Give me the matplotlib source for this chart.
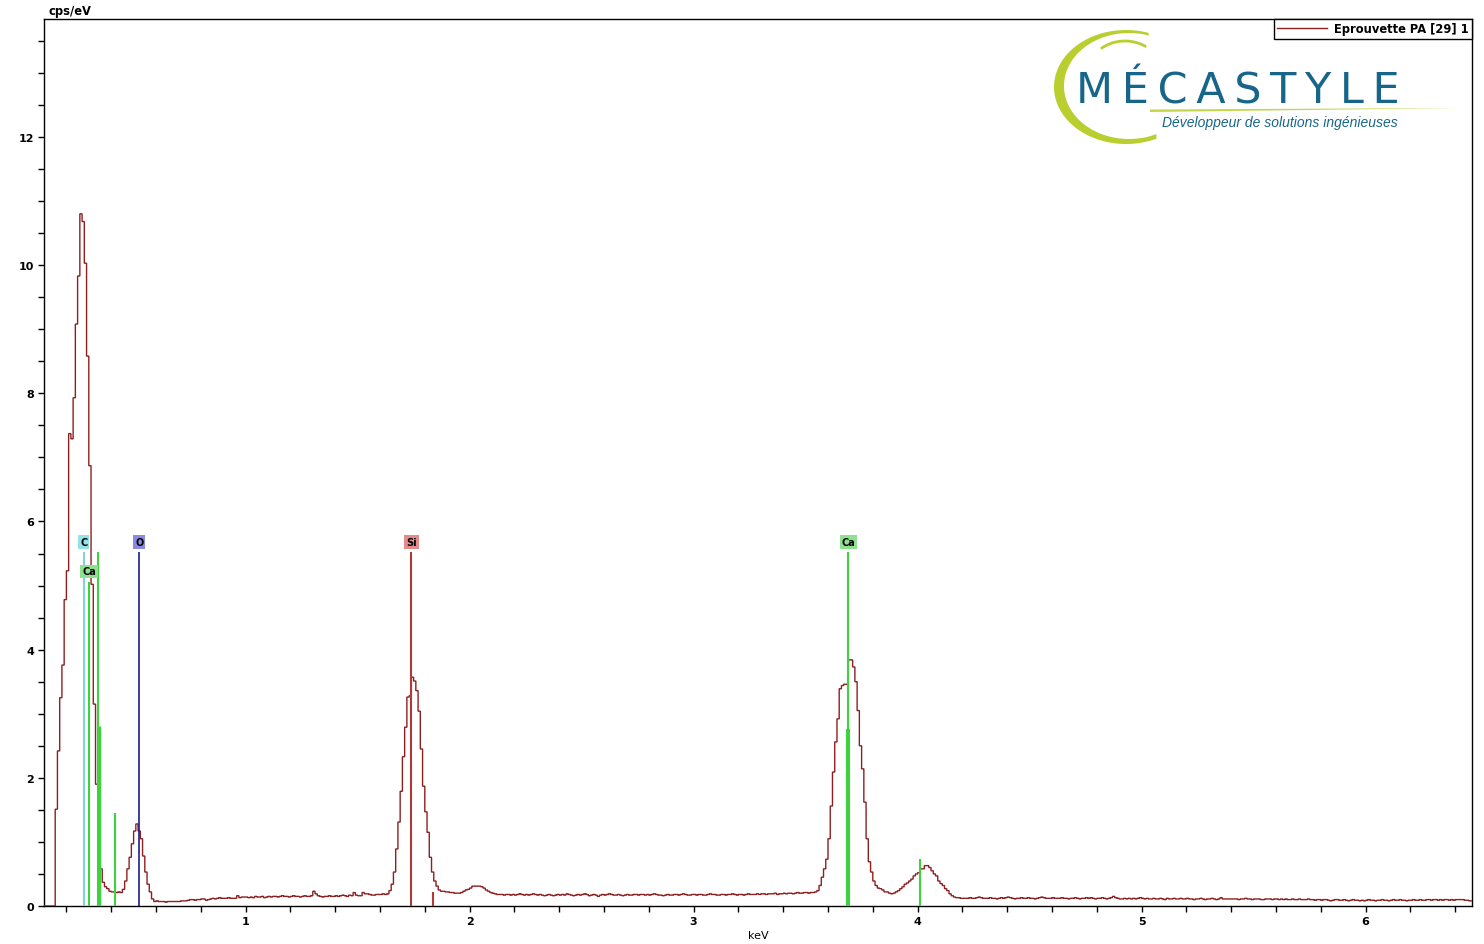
import numpy as np
import matplotlib
matplotlib.use('Agg')
import matplotlib.pyplot as plt
from matplotlib.ticker import MultipleLocator
from matplotlib.patches import Polygon

plt.rcParams['font.family'] = ['DejaVu Sans']
plt.rcParams['font.weight'] = 'bold'

# spectrum: 10 eV channels starting at 0.10 keV
channel_start = 0.10
channel_width = 0.01

below_threshold = [0.0, 0.0, 0.0, 0.0, 0.0]  # 0.10 - 0.15
low_energy = [  # 0.15 - 0.61 (C / Ca L / O)
    1.51, 2.42, 3.25, 3.76, 4.78, 5.23, 7.37, 7.29, 7.93, 9.08,
    9.83, 10.80, 10.68, 10.03, 8.58, 6.87, 5.02, 3.15, 1.90, 1.05,
    0.58, 0.37, 0.30, 0.27, 0.23, 0.22, 0.22, 0.21, 0.22, 0.21,
    0.26, 0.39, 0.58, 0.76, 0.97, 1.17, 1.28, 1.17, 1.05, 0.78,
    0.53, 0.34, 0.22, 0.11, 0.07, 0.08,
]
background_1 = [  # 0.61 - 1.64
    0.07, 0.07, 0.07, 0.06, 0.07, 0.07, 0.07, 0.07, 0.07,
    0.07, 0.08, 0.08, 0.08, 0.09, 0.10, 0.10, 0.09, 0.10, 0.10,
    0.11, 0.11, 0.09, 0.10, 0.11, 0.12, 0.11, 0.12, 0.13, 0.12,
    0.12, 0.12, 0.13, 0.12, 0.12, 0.12, 0.16, 0.13, 0.14, 0.14,
    0.14, 0.13, 0.14, 0.13, 0.15, 0.14, 0.14, 0.15, 0.13, 0.14,
    0.15, 0.14, 0.15, 0.15, 0.14, 0.15, 0.16, 0.15, 0.15, 0.14,
    0.15, 0.16, 0.15, 0.15, 0.14, 0.15, 0.16, 0.15, 0.15, 0.16,
    0.23, 0.19, 0.16, 0.15, 0.14, 0.15, 0.15, 0.16, 0.15, 0.15,
    0.16, 0.15, 0.16, 0.17, 0.16, 0.15, 0.17, 0.16, 0.21, 0.17,
    0.16, 0.16, 0.21, 0.19, 0.19, 0.18, 0.17, 0.17, 0.18, 0.18,
    0.18, 0.19, 0.18, 0.19,
]
si_peak = [  # 1.64 - 1.87
    0.24, 0.34, 0.53, 0.89, 1.31, 1.79, 2.33, 2.79, 3.26, 3.28,
    3.57, 3.51, 3.36, 3.04, 2.45, 1.87, 1.47, 1.15, 0.76, 0.53,
    0.39, 0.31, 0.25,
]
background_2 = [  # 1.87 - 3.55
    0.23, 0.23, 0.22,
    0.22, 0.21, 0.21, 0.20, 0.20, 0.20, 0.21, 0.23, 0.25, 0.26,
    0.28, 0.31, 0.31, 0.31, 0.31, 0.30, 0.28, 0.25, 0.23, 0.21,
    0.20, 0.19, 0.18, 0.18, 0.18, 0.17, 0.18, 0.18, 0.17, 0.18,
    0.17, 0.18, 0.19, 0.18, 0.17, 0.18, 0.17, 0.18, 0.19, 0.18,
    0.17, 0.18, 0.17, 0.16, 0.17, 0.18, 0.17, 0.16, 0.17, 0.18,
    0.17, 0.18, 0.17, 0.19, 0.18, 0.17, 0.16, 0.17, 0.18, 0.17,
    0.18, 0.19, 0.18, 0.16, 0.17, 0.18, 0.17, 0.15, 0.17, 0.18,
    0.17, 0.18, 0.19, 0.18, 0.17, 0.17, 0.18, 0.17, 0.16, 0.17,
    0.18, 0.17, 0.17, 0.18, 0.18, 0.17, 0.18, 0.18, 0.17, 0.18,
    0.17, 0.18, 0.19, 0.18, 0.17, 0.17, 0.16, 0.17, 0.18, 0.17,
    0.17, 0.18, 0.18, 0.17, 0.18, 0.19, 0.18, 0.17, 0.17, 0.18,
    0.18, 0.17, 0.18, 0.18, 0.17, 0.17, 0.18, 0.19, 0.18, 0.18,
    0.17, 0.17, 0.18, 0.18, 0.17, 0.18, 0.18, 0.19, 0.18, 0.17,
    0.18, 0.18, 0.17, 0.18, 0.19, 0.18, 0.18, 0.18, 0.19, 0.18,
    0.19, 0.19, 0.18, 0.19, 0.19, 0.19, 0.20, 0.18, 0.19, 0.19,
    0.20, 0.19, 0.20, 0.20, 0.19, 0.20, 0.21, 0.20, 0.20, 0.21,
    0.21, 0.20, 0.21, 0.21, 0.22,
]
ca_peak = [  # 3.55 - 4.18
    0.24, 0.32, 0.45, 0.58, 0.73, 1.05, 1.56, 2.09, 2.56, 2.92,
    3.39, 3.44, 3.46, 3.46, 3.84, 3.84, 3.73, 3.50, 3.05, 2.50,
    2.14, 1.62, 1.05, 0.69, 0.53, 0.39, 0.32, 0.28, 0.27, 0.25,
    0.22, 0.22, 0.20, 0.19, 0.20, 0.22, 0.24, 0.27, 0.30, 0.34,
    0.36, 0.39, 0.42, 0.47, 0.50, 0.52, 0.58, 0.58, 0.63, 0.63,
    0.60, 0.55, 0.50, 0.47, 0.39, 0.35, 0.32, 0.27, 0.24, 0.19,
    0.16, 0.14, 0.13,
]
background_3 = [  # 4.18 - 6.48
    0.13, 0.12, 0.12, 0.12, 0.12, 0.13, 0.12, 0.12, 0.13, 0.14,
    0.13, 0.12, 0.12, 0.12, 0.13, 0.12, 0.12, 0.11, 0.12, 0.13,
    0.12, 0.13, 0.14, 0.13, 0.12, 0.11, 0.12, 0.12, 0.13, 0.12,
    0.12, 0.13, 0.12, 0.12, 0.11, 0.12, 0.13, 0.14, 0.13, 0.12,
    0.12, 0.12, 0.13, 0.12, 0.12, 0.12, 0.13, 0.12, 0.12, 0.11,
    0.12, 0.12, 0.13, 0.12, 0.11, 0.12, 0.12, 0.13, 0.12, 0.13,
    0.12, 0.11, 0.12, 0.12, 0.13, 0.12, 0.11, 0.12, 0.13, 0.15,
    0.13, 0.12, 0.11, 0.11, 0.12, 0.11, 0.12, 0.11, 0.12, 0.11,
    0.12, 0.13, 0.12, 0.11, 0.12, 0.11, 0.11, 0.12, 0.11, 0.11,
    0.12, 0.11, 0.10, 0.12, 0.11, 0.11, 0.12, 0.11, 0.11, 0.12,
    0.11, 0.11, 0.12, 0.11, 0.11, 0.10, 0.11, 0.11, 0.12, 0.11,
    0.10, 0.11, 0.11, 0.12, 0.11, 0.10, 0.11, 0.13, 0.11, 0.11,
    0.11, 0.11, 0.11, 0.11, 0.11, 0.10, 0.11, 0.11, 0.12, 0.11,
    0.11, 0.10, 0.11, 0.11, 0.11, 0.10, 0.10, 0.11, 0.11, 0.11,
    0.10, 0.11, 0.11, 0.10, 0.11, 0.10, 0.11, 0.10, 0.10, 0.11,
    0.10, 0.10, 0.11, 0.10, 0.10, 0.10, 0.11, 0.10, 0.10, 0.09,
    0.10, 0.10, 0.09, 0.10, 0.10, 0.09, 0.08, 0.09, 0.10, 0.10,
    0.09, 0.09, 0.10, 0.09, 0.08, 0.09, 0.10, 0.09, 0.09, 0.08,
    0.09, 0.08, 0.09, 0.10, 0.09, 0.09, 0.08, 0.09, 0.09, 0.10,
    0.09, 0.09, 0.08, 0.09, 0.10, 0.09, 0.09, 0.10, 0.09, 0.09,
    0.08, 0.09, 0.09, 0.10, 0.09, 0.09, 0.10, 0.09, 0.09, 0.10,
    0.10, 0.09, 0.10, 0.10, 0.09, 0.10, 0.09, 0.10, 0.10, 0.09,
    0.10, 0.09, 0.10, 0.10, 0.10, 0.10, 0.09, 0.09, 0.08, 0.08,
]

counts = np.array(below_threshold + low_energy + background_1 + si_peak
                  + background_2 + ca_peak + background_3)
edges = channel_start + channel_width * np.arange(len(counts) + 1)

# element lines (keV, height in cps/eV)
line_energy = [0.277, 0.302, 0.341, 0.345, 0.417, 0.525, 1.740, 1.836, 3.691, 3.688, 4.012]
line_height = [5.52, 5.06, 5.52, 2.81, 1.45, 5.52, 5.52, 0.22, 5.52, 2.76, 0.73]
line_element = ['C', 'Ca', 'Ca', 'Ca', 'Ca', 'O', 'Si', 'Si', 'Ca', 'Ca', 'Ca']
line_width = [1.5, 1.5, 1.5, 2.5, 1.5, 1.2, 1.5, 1.5, 1.5, 3.0, 1.5]

label_text = ['C', 'Ca', 'O', 'Si', 'Ca']
label_energy = [0.277, 0.302, 0.525, 1.740, 3.691]
label_height = [5.52, 5.06, 5.52, 5.52, 5.52]

element_line_color = {'C': '#7fd3dc', 'Ca': '#3fd23f', 'O': '#1c1c8c', 'Si': '#b03a3a'}
element_box_color = {'C': '#93e3e8', 'Ca': '#8fe08f', 'O': '#8a8ae0', 'Si': '#e48a8a'}

fig = plt.figure(figsize=(14.84, 9.45), dpi=100)
ax = fig.add_axes([44 / 1484, 38 / 945, 1428 / 1484, 887 / 945])

ax.stairs(counts, edges, color='#8c1f1f', linewidth=1.0, label='Eprouvette PA [29] 1', zorder=3)
ax.vlines(line_energy, 0, line_height,
          colors=[element_line_color[e] for e in line_element],
          linewidths=line_width, zorder=4)
for txt, e, h in zip(label_text, label_energy, label_height):
    ax.text(e, h + 0.16, txt, ha='center', va='center', fontsize=7, color='black',
            bbox=dict(boxstyle='square,pad=0.2', fc=element_box_color[txt], ec='none'), zorder=5)

ax.set_xlim(0.10, 6.475)
ax.set_ylim(0, 13.84)
ax.xaxis.set_major_locator(MultipleLocator(1))
ax.xaxis.set_minor_locator(MultipleLocator(0.2))
ax.yaxis.set_major_locator(MultipleLocator(2))
ax.yaxis.set_minor_locator(MultipleLocator(0.5))
ax.tick_params(which='both', direction='out', length=4, width=1, labelsize=8, pad=3)
ax.set_xticks([1, 2, 3, 4, 5, 6])
ax.set_xticklabels(['1', '2', '3', '4', '5', '6'])
for sp in ax.spines.values():
    sp.set_linewidth(1)
ax.set_xlabel('keV', fontsize=8, labelpad=3)
ax.text(0.003, 1.002, 'cps/eV', transform=ax.transAxes, ha='left', va='bottom', fontsize=8.3)

leg = ax.legend(loc='upper right', borderaxespad=0, fancybox=False, fontsize=8.3,
                handlelength=4.3, borderpad=0.3, handletextpad=0.6, framealpha=1)
leg.get_frame().set_edgecolor('black')
leg.get_frame().set_linewidth(1)
leg.get_lines()[0].set_linewidth(1)

# company logo (drawn in pixel coordinates of the logo area)
lax = fig.add_axes([1040 / 1484, (945 - 150) / 945, 440 / 1484, 130 / 945])
lax.set_xlim(1040, 1480)
lax.set_ylim(150, 20)
lax.axis('off')
t = np.linspace(np.radians(72), np.radians(295), 120)
outer = np.column_stack([1126 + 72 * np.cos(t), 88 - 57 * np.sin(t)])
inner = np.column_stack([1129 + 65 * np.cos(t[::-1]), 87 - 53 * np.sin(t[::-1])])
lax.add_patch(Polygon(np.vstack([outer, inner]), closed=True, fc='#b9cf2f', ec='none'))
t2 = np.linspace(np.radians(60), np.radians(125), 40)
lax.plot(1125 + 40 * np.cos(t2), 80 - 38 * np.sin(t2), color='#b9cf2f', lw=2)
lax.add_patch(Polygon([[1150, 113], [1463, 109], [1150, 110.5]], closed=True, fc='#c3d64a', ec='none'))
lax.text(1076, 104, '\u2009'.join('MÉCASTYLE'), fontsize=31, color='#17668a', fontweight='normal',
         ha='left', va='baseline')
lax.text(1280, 123, 'Développeur de solutions ingénieuses', fontsize=10, color='#17668a',
         fontweight='normal', fontstyle='italic', ha='center', va='center', family='Liberation Sans')

fig.savefig('out.png', dpi=100)
